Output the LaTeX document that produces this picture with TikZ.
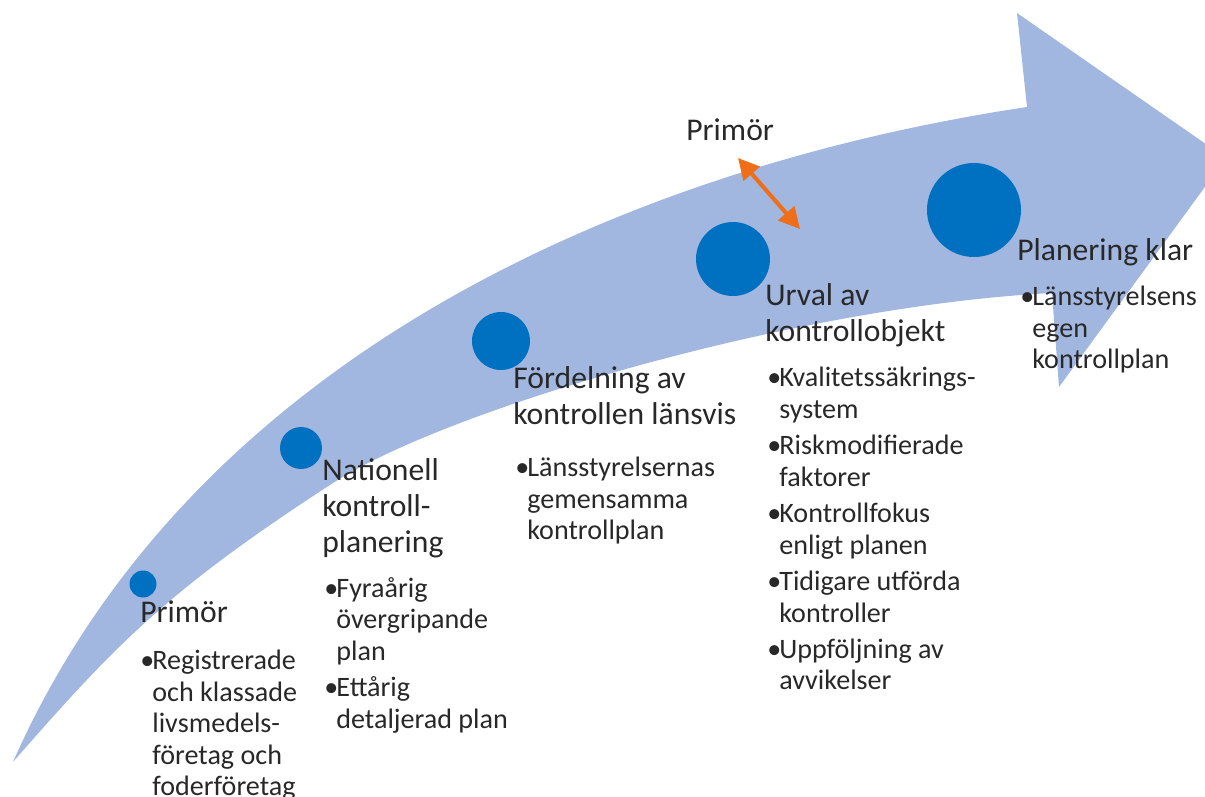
\documentclass[tikz,border=0pt]{standalone}
\usepackage{fontspec}
\setmainfont{Carlito}
\usetikzlibrary{arrows.meta}
\definecolor{bandblue}{RGB}{161,183,224}
\definecolor{dotblue}{RGB}{0,112,192}
\definecolor{markorange}{RGB}{238,110,25}
\definecolor{txtgray}{RGB}{40,40,40}
\newcommand{\bul}{\makebox[0.24cm][l]{\textbullet}}
\newcommand{\ind}{\hspace*{0.24cm}}

\begin{document}
\begin{tikzpicture}[x=0.02cm,y=-0.02cm,
  dot/.style={circle,fill=dotblue,inner sep=0pt},
  stagetitle/.style={anchor=north west,inner sep=0pt,align=left,text=txtgray,font=\fontsize{18}{20.5}\selectfont},
  stagelist/.style={anchor=north west,inner sep=0pt,align=left,text=txtgray,font=\fontsize{16}{17.9}\selectfont}]
\useasboundingbox (0,0) rectangle (1205,796);

% Curved arrow band
\begin{scope}
\clip (0,0) rectangle (1205,796);
\fill[bandblue] (13,762) .. controls (195,350) and (640,165) .. (1027,107)
  -- (1017,13) -- (1226,158) -- (1059,387) -- (1052,293)
  .. controls (798,306) and (447,409) .. (333,483)
  .. controls (168,590) and (117,643) .. (13,762) -- cycle;
\end{scope}

% Milestones
\node[dot,minimum size=0.54cm] (d1) at (143,584) {};
\node[dot,minimum size=0.84cm] (d2) at (301,448) {};
\node[dot,minimum size=1.16cm] (d3) at (501,341) {};
\node[dot,minimum size=1.48cm] (d4) at (733,259) {};
\node[dot,minimum size=1.88cm] (d5) at (974,210) {};

% Stage titles
\node[stagetitle] (t1) at (140,600) {Primör};
\node[stagetitle] (t2) at (322,458) {Nationell\\kontroll-\\planering};
\node[stagetitle] (t3) at (513,366) {Fördelning av\\kontrollen länsvis};
\node[stagetitle] (t4) at (765,283) {Urval av\\kontrollobjekt};
\node[stagetitle] (t5) at (1017,238) {Planering klar};

% Stage contents
\node[stagelist] (l1) at (140,650) {\bul Registrerade\\\ind och klassade\\\ind livsmedels-\\\ind företag och\\\ind foderföretag};
\node[stagelist] (l2) at (324,577) {\bul Fyraårig\\\ind övergripande\\\ind plan\\[0.1cm]\bul Ettårig\\\ind detaljerad plan};
\node[stagelist] (l3) at (515,457) {\bul Länsstyrelsernas\\\ind gemensamma\\\ind kontrollplan};
\node[stagelist] (l4) at (767,367) {\bul Kvalitetssäkrings-\\\ind system\\[0.1cm]\bul Riskmodifierade\\\ind faktorer\\[0.1cm]\bul Kontrollfokus\\\ind enligt planen\\[0.1cm]\bul Tidigare utförda\\\ind kontroller\\[0.1cm]\bul Uppföljning av\\\ind avvikelser};
\node[stagelist] (l5) at (1020,286) {\bul Länsstyrelsens\\\ind egen\\\ind kontrollplan};

% Primör marker
\node[stagetitle] (ptop) at (686,118) {Primör};
\coordinate (o1) at (738,158);
\coordinate (o2) at (800,229);
\draw[markorange,line width=0.08cm,{Triangle[length=0.42cm,width=0.42cm]}-{Triangle[length=0.42cm,width=0.42cm]}] (o1) -- (o2);
\end{tikzpicture}
\end{document}
